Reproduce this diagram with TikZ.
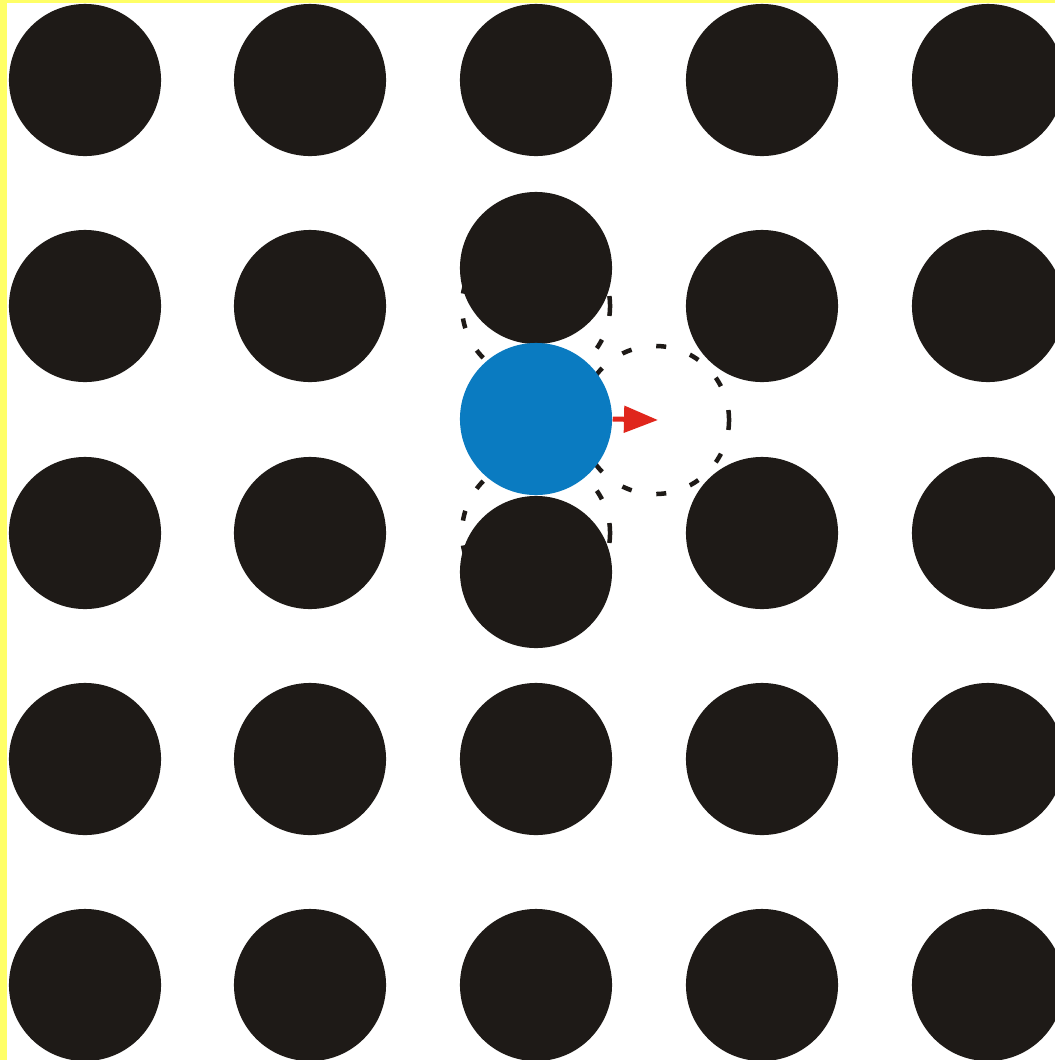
\documentclass[tikz,border=0pt]{standalone}
\usetikzlibrary{arrows.meta}
\definecolor{Atom}{HTML}{1E1A17}
\definecolor{Mover}{HTML}{0A7BC1}
\definecolor{Jump}{HTML}{E0261C}
\definecolor{Frame}{HTML}{FFFF66}
\tikzset{
  atom/.style={circle,fill=Atom,minimum size=1.52cm,inner sep=0pt},
  mover/.style={atom,fill=Mover},
  site/.style={circle,draw=Atom,line width=0.045cm,dash pattern=on 0.1cm off 0.25cm,minimum size=1.48cm,inner sep=0pt},
}
\begin{document}
\begin{tikzpicture}[x=0.01cm,y=-0.01cm]
\useasboundingbox (0,0) rectangle (1055,1060);
\fill[Frame] (0,0) rectangle (1055,1060);
\fill[white] (7,3) rectangle (1055,1060);
% empty sites
\node[site] (s2) at (536,306) {};
\node[site] (s3) at (536,533) {};
\node[site] (sj) at (655,420) {};
\foreach \c/\x in {1/85,2/310,4/762,5/988} {\foreach \r/\y in {1/80,2/306,3/533,4/759,5/985} {\node[atom] (a\c\r) at (\x,\y) {};}}
\node[atom] (a31) at (536,80) {};
\node[atom] (a32) at (536,268) {};
\node[atom] (a33) at (536,572) {};
\node[atom] (a34) at (536,759) {};
\node[atom] (a35) at (536,985) {};
\node[mover] (m) at (536,419) {};
\coordinate (tip) at (658,420);
\draw[Jump,line width=0.05cm,-{Triangle[length=0.34cm,width=0.26cm]}] (m.east) -- (tip);
\end{tikzpicture}
\end{document}
